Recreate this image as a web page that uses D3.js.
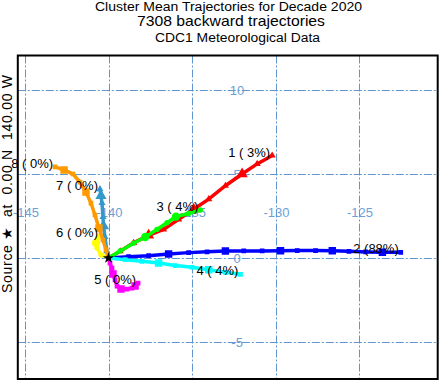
<!DOCTYPE html>
<html>
<head>
<meta charset="utf-8">
<script src="https://cdn.jsdelivr.net/npm/d3@7"></script>
<style>
  body { margin: 0; background: #fff; }
  svg { display: block; font-family: "Liberation Sans", Arial, sans-serif; }
</style>
</head>
<body>
<svg width="441" height="380"></svg>
<script>
// cluster ids and share of trajectories
var clusterIds = [1, 2, 3, 4, 5, 6, 7, 8]
var clusterPcts = [3, 88, 4, 4, 0, 0, 0, 0]

// mean trajectories, [lon, lat], starting at the source
var traj1 = [[-140,0],[-139.3,0.4],[-138.5,0.9],[-137.6,1.35],[-136.7,1.7],[-135.8,2.3],[-134.9,2.9],[-134.0,3.5],[-133.0,4.3],[-132.0,5.0],[-131.1,5.6],[-130.2,6.1]]
var traj2 = [[-140,0],[-138.8,0.08],[-137.6,0.14],[-136.4,0.24],[-135.2,0.32],[-134.1,0.37],[-133.0,0.42],[-131.9,0.42],[-130.8,0.42],[-129.7,0.43],[-128.7,0.44],[-127.6,0.44],[-126.6,0.43],[-125.6,0.4],[-124.6,0.36],[-123.6,0.34],[-122.5,0.34]]
var traj3 = [[-140,0],[-139.3,0.42],[-138.5,0.88],[-137.8,1.25],[-137.1,1.7],[-136.5,2.1],[-135.96,2.46],[-135.2,2.65],[-134.5,2.86]]
var traj4 = [[-140,0],[-139,-0.1],[-138,-0.2],[-137,-0.3],[-136,-0.45],[-135,-0.55],[-134,-0.7],[-133,-0.85],[-132.1,-0.97]]
var traj5 = [[-140,0],[-139.91,-0.3],[-139.79,-0.6],[-139.73,-0.95],[-139.61,-1.31],[-139.49,-1.67],[-139.25,-1.85],[-138.89,-1.85],[-138.59,-1.79],[-138.41,-1.67],[-138.23,-1.49]]
var traj6 = [[-140,0],[-140.45,0.18],[-140.69,0.6],[-140.75,0.89],[-140.63,1.19],[-140.51,1.31]]
var traj7 = [[-140,0],[-140.1,0.4],[-140.21,1.25],[-140.3,1.9],[-140.33,2.44],[-140.39,3.27],[-140.45,3.7],[-140.51,4.1]]
var traj8 = [[-140,0],[-140.15,0.48],[-140.33,1.07],[-140.57,1.79],[-140.81,2.56],[-141.05,3.27],[-141.35,3.93],[-141.71,4.52],[-142.13,5.0],[-142.66,5.24],[-143.2,5.42]]
var trajectories = [traj1, traj2, traj3, traj4, traj5, traj6, traj7, traj8]

var lonTicks = [-145, -140, -135, -130, -125]
var latTicks = [10, 5, 0, -5]
var source = [-140, 0]

var colors = ["#ff0000", "#0000ff", "#00ff00", "#00ffff", "#ff00ff", "#ffff00", "#3399cc", "#ff9900"]
var symbols = [d3.symbolTriangle, d3.symbolSquare, d3.symbolCircle, d3.symbolSquare, d3.symbolSquare, d3.symbolCircle, d3.symbolTriangle, d3.symbolSquare]

var svg = d3.select("svg")
var x = d3.scaleLinear().domain([-145, -125]).range([25, 359])
var y = d3.scaleLinear().domain([-5, 10]).range([342, 90])
var frame = {x0: 17.8, y0: 55.5, x1: 437.7, y1: 379}

// titles (the original font is a bit wide, so fit to measured widths)
var titles = [
  {t: "Cluster Mean Trajectories for Decade 2020", x: 228.5, y: 10.5, s: 12, w: 267},
  {t: "7308 backward trajectories", x: 231, y: 25.5, s: 14.5, w: 188},
  {t: "CDC1 Meteorological Data", x: 237.5, y: 42, s: 12.5, w: 165}
]
svg.selectAll("text.title").data(titles).join("text")
  .attr("class", "title")
  .attr("x", d => d.x).attr("y", d => d.y)
  .attr("text-anchor", "middle")
  .attr("font-size", d => d.s)
  .attr("textLength", d => d.w)
  .attr("lengthAdjust", "spacingAndGlyphs")
  .text(d => d.t)

// y side label
svg.append("text")
  .attr("transform", "translate(11.5,184) rotate(-90)")
  .attr("text-anchor", "middle")
  .attr("font-size", 14)
  .attr("textLength", 218)
  .style("white-space", "pre")
  .text("Source \u2605  at  0.00 N  140.00 W")

var plot = svg.append("g")
plot.append("clipPath").attr("id", "clip")
  .append("rect")
  .attr("x", frame.x0).attr("y", frame.y0)
  .attr("width", frame.x1 - frame.x0).attr("height", frame.y1 - frame.y0)

var grid = plot.append("g")
  .attr("stroke", "#5f95d0")
  .attr("stroke-width", 1)
  .attr("stroke-dasharray", "8,2,2,2")
grid.selectAll("line.v").data(lonTicks).join("line")
  .attr("x1", d => Math.round(x(d)) + 0.5).attr("x2", d => Math.round(x(d)) + 0.5)
  .attr("y1", frame.y0).attr("y2", frame.y1)
grid.selectAll("line.h").data(latTicks).join("line")
  .attr("class", "h")
  .attr("y1", d => Math.round(y(d)) + 0.5).attr("y2", d => Math.round(y(d)) + 0.5)
  .attr("x1", frame.x0).attr("x2", frame.x1)

// grid labels
var labLat = 2.68, labLon = -132.3
plot.selectAll("text.lon").data(lonTicks).join("text")
  .attr("class", "lon")
  .attr("x", d => x(d) + 1).attr("y", y(labLat) + 4.5)
  .attr("text-anchor", "middle")
  .attr("font-size", 13)
  .attr("fill", "#6d9fd6")
  .text(d => d)
plot.selectAll("text.lat").data(latTicks).join("text")
  .attr("class", "lat")
  .attr("x", x(labLon)).attr("y", d => y(d) + 4.5)
  .attr("text-anchor", "middle")
  .attr("font-size", 13)
  .attr("fill", "#6d9fd6")
  .text(d => d)

// trajectories
var line = d3.line().x(d => x(d[0])).y(d => y(d[1]))
var tg = plot.append("g").attr("clip-path", "url(#clip)")
trajectories.forEach(function(tr, i) {
  tg.append("path")
    .attr("d", line(tr))
    .attr("fill", "none")
    .attr("stroke", colors[i])
    .attr("stroke-width", 3.5)
  tg.selectAll(null).data(tr.slice(1)).join("path")
    .attr("transform", d => `translate(${x(d[0])},${y(d[1])})`)
    .attr("d", (d, j) => d3.symbol(symbols[i], j % 3 == 2 ? 55 : 22)())
    .attr("fill", colors[i])
})

// cluster labels at trajectory ends
plot.selectAll("text.cl").data(clusterIds).join("text")
  .attr("class", "cl")
  .attr("x", (d, i) => x(trajectories[i][trajectories[i].length - 1][0]) - 2)
  .attr("y", (d, i) => y(trajectories[i][trajectories[i].length - 1][1]) + 1)
  .attr("text-anchor", "end")
  .attr("font-size", 13)
  .style("white-space", "pre")
  .text((d, i) => `${d} (${String(clusterPcts[i]).padStart(2)}%)`)

// source star
plot.append("path")
  .attr("transform", `translate(${x(source[0])},${y(source[1])})`)
  .attr("d", d3.symbol(d3.symbolStar, 40)())
  .attr("fill", "#000")

// frame
svg.append("rect")
  .attr("x", frame.x0).attr("y", frame.y0)
  .attr("width", frame.x1 - frame.x0).attr("height", frame.y1 - frame.y0)
  .attr("fill", "none")
  .attr("stroke", "#000")
  .attr("stroke-width", 2)
</script>
</body>
</html>
